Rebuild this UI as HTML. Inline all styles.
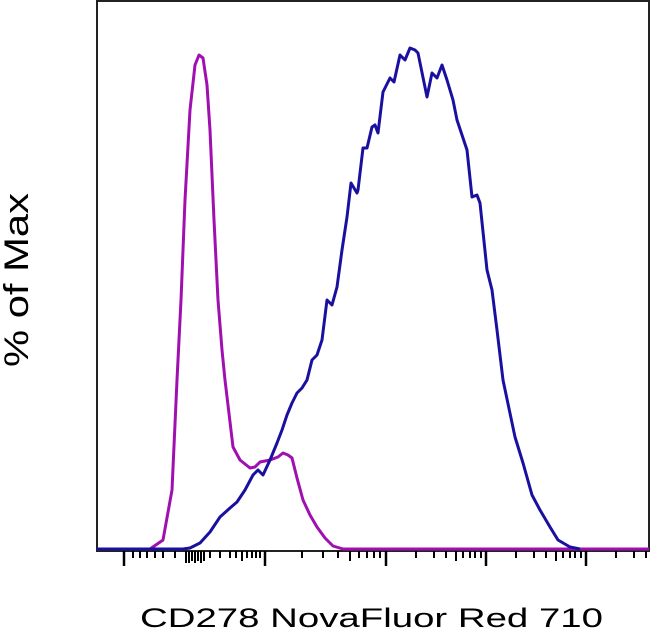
<!DOCTYPE html>
<html><head><style>body{margin:0;background:#fff}svg{display:block}</style></head><body>
<svg width="650" height="636" viewBox="0 0 650 636" xmlns="http://www.w3.org/2000/svg">
<rect x="0" y="0" width="650" height="636" fill="#fff"/>
<path d="M97,1 V551 H649 V1 Z" fill="none" stroke="#222" stroke-width="2"/>
<g stroke="#000" stroke-width="2.5">
<line x1="124" y1="551" x2="124" y2="566"/>
<line x1="265" y1="551" x2="265" y2="566"/>
<line x1="386" y1="551" x2="386" y2="566"/>
<line x1="486" y1="551" x2="486" y2="566"/>
<line x1="586" y1="551" x2="586" y2="566"/>
</g>
<g stroke="#000" stroke-width="2">
<path d="M133,551v7M140,551v7M147,551v7M155,551v7M163,551v7M175,551v7M186,551v12M189,551v12M192,551v10M195,551v12M198,551v10M201,551v12M204,551v10M210,551v7M220,551v7M230,551v7M236,551v7M242,551v10M247,551v7M252,551v7M256,551v7M260,551v7"/>
<path d="M302,551v7M323,551v7M338,551v7M350,551v10M359,551v7M367,551v7M374,551v7M380,551v7"/>
<path d="M416,551v7M434,551v7M446,551v7M456,551v10M463,551v7M470,551v7M475,551v7M481,551v7"/>
<path d="M516,551v7M534,551v7M546,551v7M556,551v10M563,551v7M570,551v7M575,551v7M581,551v7"/>
<path d="M616,551v7M634,551v7M646,551v7"/>
</g>
<polyline fill="none" stroke="#a010b0" stroke-width="3" stroke-linejoin="round" points="97,549 150,549 163,540 172,490 177,380 181,300 185,200 190,110 195,65 199,55 203,58 207,85 210,130 214,220 218,300 222,350 225,380 233,447 240,460 250,468 255,467 260,462 270,460 278,457 283,453 288,455 292,458 297,478 303,500 310,515 317,527 325,538 333,546 343,549 649,549"/>
<polyline fill="none" stroke="#1a10a0" stroke-width="3" stroke-linejoin="round" points="97,549 183,549 190,548 200,543 210,532 220,517 230,508 237,502 245,490 253,475 258,470 263,475 270,460 277,443 282,430 287,415 292,403 297,393 302,388 307,380 310,368 312,360 317,355 322,340 327,300 332,305 337,287 342,250 347,217 351,183 357,193 358,190 363,148 367,148 372,127 375,125 378,133 383,92 390,78 394,82 400,55 405,60 410,48 415,50 418,53 427,97 432,73 437,78 442,65 447,80 453,100 457,120 467,150 472,197 477,195 480,203 487,270 492,290 497,330 503,380 515,437 523,463 532,495 540,510 550,527 558,540 570,547 580,549"/>
<text x="140" y="627" font-family="Liberation Sans, sans-serif" font-size="26.5" textLength="463" lengthAdjust="spacingAndGlyphs" fill="#000">CD278 NovaFluor Red 710</text>
<text transform="translate(28,280) rotate(-90)" text-anchor="middle" font-family="Liberation Sans, sans-serif" font-size="34" textLength="174" lengthAdjust="spacingAndGlyphs" fill="#000">% of Max</text>
</svg>
</body></html>
